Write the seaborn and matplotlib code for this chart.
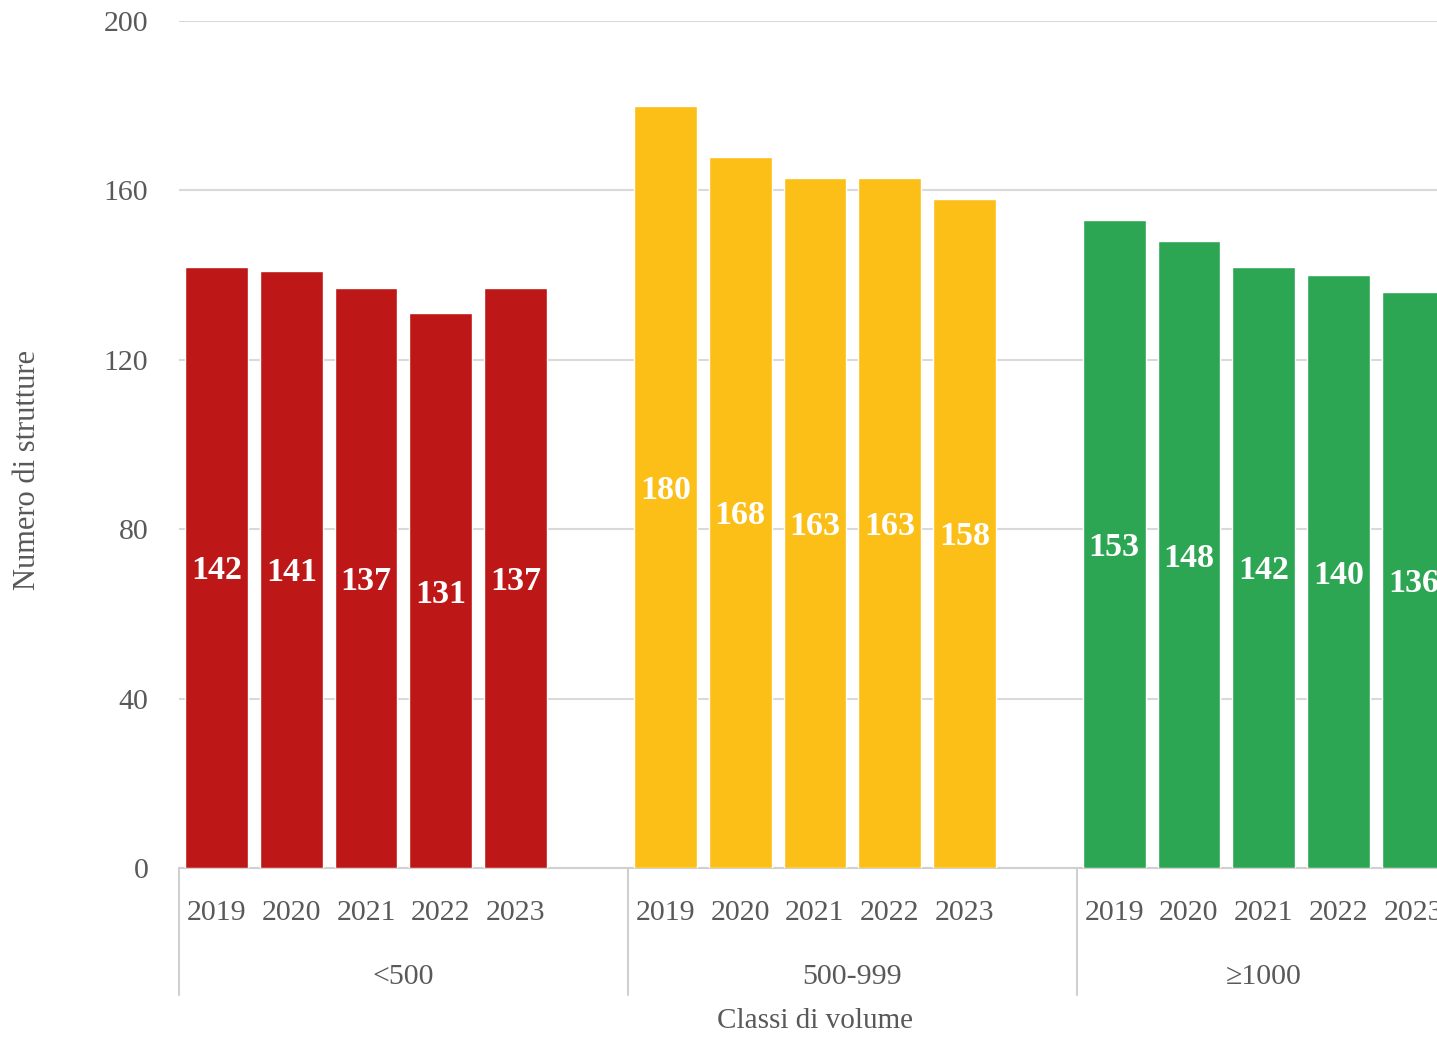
import pandas as pd
import matplotlib.pyplot as plt
import seaborn as sns

classes = ['<500', '500-999', '≥1000']
years = ['2019', '2020', '2021', '2022', '2023']
vals_lt500 = [142, 141, 137, 131, 137]
vals_500_999 = [180, 168, 163, 163, 158]
vals_ge1000 = [153, 148, 142, 140, 136]
colors = ['#BE1717', '#FBBF18', '#2CA652']

# each class takes 6 slots (5 years + 1 empty gap)
rows = []
for g, (cls, vals) in enumerate(zip(classes, [vals_lt500, vals_500_999, vals_ge1000])):
    for i, (yr, v) in enumerate(zip(years, vals)):
        rows.append({'pos': g * 6 + i, 'Classe': cls, 'Anno': yr, 'Valore': v})
df = pd.DataFrame(rows)

sns.set_theme(style='white')
plt.rcParams['font.family'] = ['Liberation Serif', 'DejaVu Serif']

fig = plt.figure(figsize=(14.37, 10.37), dpi=100)
ax = fig.add_axes([0.1246, 0.163, 0.885, 0.8167])

sns.barplot(data=df, x='pos', y='Valore', hue='Classe', palette=colors,
            native_scale=True, dodge=False, width=0.84, legend=False,
            saturation=1, ax=ax, zorder=3)

ax.set_xlim(-0.5, 16.5)
ax.set_ylim(0, 200)
ax.set_yticks(range(0, 201, 40))
ax.grid(axis='y', color='#d9d9d9', linewidth=1.5, zorder=0)
ax.set_axisbelow(True)
for s in ['top', 'right', 'left']:
    ax.spines[s].set_visible(False)
ax.spines['bottom'].set_color('#d0d0d0')
ax.spines['bottom'].set_linewidth(1.5)

ax.set_xticks(df['pos'])
ax.set_xticklabels(df['Anno'])
ax.tick_params(axis='x', length=0, pad=23, labelsize=21.5, labelcolor='#595959')
ax.tick_params(axis='y', length=0, pad=22, labelsize=21.5, labelcolor='#595959')

# value labels in the middle of each bar
for _, r in df.iterrows():
    ax.text(r['pos'], r['Valore'] / 2, str(r['Valore']), ha='center',
            va='center_baseline', color='white', fontsize=24.5,
            fontweight='bold', zorder=4)

# group separators and class labels
trans = ax.get_xaxis_transform()
for g, cls in enumerate(classes):
    ax.plot([g * 6 - 0.5, g * 6 - 0.5], [0, -0.15], transform=trans,
            color='#d0d0d0', linewidth=1.5, clip_on=False)
    n = len(years) if g == len(classes) - 1 else 6
    ax.text(g * 6 - 0.5 + n / 2, -0.129, cls, transform=trans, ha='center',
            va='center', fontsize=21.5, color='#595959')

ax.set_xlabel('')
ax.set_ylabel('')
ax.text(0.5, -0.181, 'Classi di volume', transform=ax.transAxes, ha='center',
        va='center', fontsize=21, color='#595959')
ax.text(-0.119, 0.47, 'Numero di strutture', transform=ax.transAxes, ha='center',
        va='center', rotation=90, fontsize=22, color='#595959')

plt.savefig('out.png', dpi=100)
plt.close()
